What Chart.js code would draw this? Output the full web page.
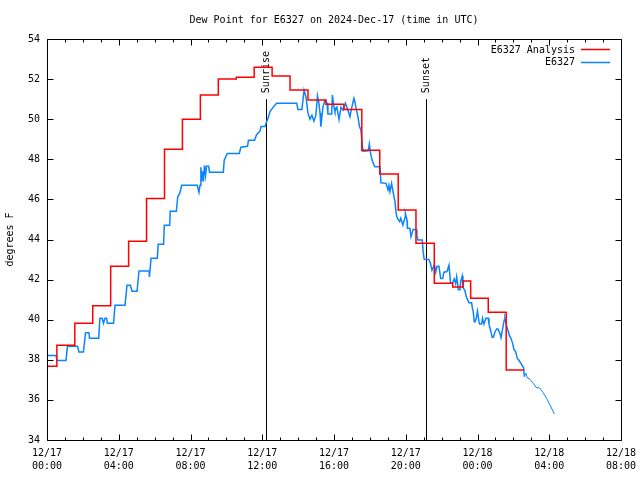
<!DOCTYPE html>
<html>
<head>
<meta charset="utf-8">
<script src="https://cdn.jsdelivr.net/npm/chart.js@4.4.1/dist/chart.umd.min.js"></script>
<style>
  html, body { margin: 0; padding: 0; background: #fff; }
  canvas { display: block; }
</style>
</head>
<body>
<canvas id="dewChart" width="640" height="480"></canvas>
<script>
const chartTitle = 'Dew Point for E6327 on 2024-Dec-17 (time in UTC)';
const analysisLabel = 'E6327 Analysis';
const obsLabel = 'E6327';
const yAxisLabel = 'degrees F';

// times are hours since 2024-12-17 00:00 UTC
const analysisHours = [0, 0.55, 1.55, 2.55, 3.55, 4.55, 5.55, 6.55, 7.55, 8.55, 9.55, 10.55, 11.55,
  12.55, 13.55, 14.55, 15.55, 16.55, 17.55, 18.55, 19.58, 20.57, 21.59, 22.62, 23.2, 23.62, 24.6, 25.6, 26.6];
const analysisDewpt = [37.68, 38.72, 39.82, 40.70, 42.66, 43.91, 46.05, 48.50, 50.00, 51.21, 52.00, 52.09, 52.59,
  52.15, 51.46, 50.96, 50.75, 50.49, 48.45, 47.27, 45.47, 43.81, 41.82, 41.63, 41.93, 41.07, 40.37, 37.49, 37.49];

const obsHours = [0, 0.50, 0.56, 1.06, 1.14, 1.70, 1.78, 2.03, 2.15, 2.34, 2.37, 2.88, 2.95, 3.07, 3.15, 3.23,
  3.32, 3.37, 3.71, 3.79, 4.35, 4.46, 4.65, 4.74, 5.02, 5.13, 5.69, 5.71, 5.80, 6.15, 6.20, 6.50, 6.54, 6.84,
  6.87, 7.21, 7.29, 7.40, 7.51, 8.38, 8.47, 8.53, 8.58, 8.62, 8.67, 8.72, 8.78, 8.84, 8.89, 9.01, 9.06, 9.83,
  9.88, 10.05, 10.72, 10.81, 11.18, 11.23, 11.57, 11.68, 11.87, 11.93, 12.15, 12.21, 12.32, 12.43, 12.60, 12.80,
  13.92, 13.99, 14.21, 14.33, 14.44, 14.55, 14.66, 14.77, 14.88, 14.99, 15.08, 15.16, 15.22, 15.27, 15.38, 15.50,
  15.61, 15.66, 15.87, 15.91, 16.00, 16.05, 16.16, 16.28, 16.39, 16.50, 16.64, 16.72, 16.83, 16.89, 16.97, 17.11,
  17.17, 17.22, 17.34, 17.42, 17.50, 17.56, 17.61, 17.91, 17.97, 18.04, 18.12, 18.27, 18.56, 18.62, 18.90, 19.01,
  19.06, 19.12, 19.21, 19.29, 19.40, 19.47, 19.53, 19.66, 19.72, 19.84, 19.96, 19.98, 20.07, 20.09, 20.23, 20.29,
  20.41, 20.58, 20.62, 20.68, 20.92, 20.97, 21.03, 21.29, 21.38, 21.46, 21.60, 21.67, 21.74, 21.85, 21.95, 22.06,
  22.13, 22.30, 22.41, 22.50, 22.60, 22.70, 22.78, 22.84, 22.93, 23.02, 23.06, 23.15, 23.19, 23.30, 23.37, 23.52,
  23.67, 23.72, 23.76, 23.82, 23.87, 23.95, 24.00, 24.08, 24.12, 24.23, 24.28, 24.36, 24.47, 24.60, 24.64, 24.72,
  24.82, 24.88, 24.98, 25.07, 25.14, 25.25, 25.31, 25.35, 25.49, 25.53, 25.66, 25.77, 25.86, 25.96, 26.03, 26.13,
  26.22, 26.33, 26.42, 26.57, 26.61, 26.70, 26.77, 26.92, 27.11, 27.26, 27.48, 27.66, 27.85, 28.04, 28.28];
const obsDewpt = [38.22, 38.22, 37.97, 37.97, 38.67, 38.67, 38.39, 38.39, 39.35, 39.35, 39.07, 39.07, 40.07, 40.07, 39.82, 40.07,
  40.07, 39.82, 39.82, 40.72, 40.72, 41.72, 41.72, 41.42, 41.42, 42.43, 42.43, 42.13, 43.06, 43.06, 43.76, 43.76, 44.71, 44.71,
  45.41, 45.41, 46.13, 46.30, 46.70, 46.70, 46.35, 46.70, 47.60, 46.90, 47.40, 46.90, 47.70, 47.20, 47.65, 47.65, 47.35, 47.35,
  47.95, 48.29, 48.29, 48.60, 48.65, 48.95, 48.95, 49.23, 49.40, 49.63, 49.63, 49.80, 50.04, 50.37, 50.59, 50.80,
  50.80, 50.49, 50.49, 51.45, 51.10, 50.30, 50.00, 50.20, 49.90, 50.20, 51.17, 50.80, 50.30, 49.63, 50.60, 50.96,
  50.80, 50.26, 50.26, 51.20, 50.60, 50.40, 50.60, 49.99, 50.60, 50.45, 50.80, 50.60, 50.30, 50.13, 50.50, 51.04,
  50.85, 50.60, 50.10, 49.63, 49.46, 48.88, 48.41, 48.43, 48.76, 48.30, 47.96, 47.63, 47.63, 46.83, 46.80, 46.47,
  46.70, 46.39, 46.80, 46.39, 45.89, 45.26, 45.06, 44.89, 45.06, 44.72, 45.10, 45.31, 44.95, 44.56, 44.56, 44.14,
  44.50, 44.50, 44.22, 43.97, 43.97, 43.39, 43.01, 43.00, 42.80, 42.46, 42.75, 42.37, 42.66, 42.66, 42.05, 42.05,
  42.37, 42.40, 42.72, 41.82, 41.82, 42.03, 41.80, 42.15, 41.50, 41.50, 41.90, 42.18, 41.60, 41.45, 41.15, 40.85,
  40.85, 40.55, 40.40, 39.90, 39.90, 40.15, 40.43, 39.90, 39.78, 39.78, 40.07, 39.78, 40.07, 40.07, 39.78, 39.50,
  39.12, 39.12, 39.40, 39.54, 39.54, 39.32, 39.10, 39.30, 39.99, 40.07, 39.57, 39.24, 39.07, 38.82, 38.52, 38.40,
  38.07, 37.95, 37.82, 37.60, 37.16, 37.33, 37.10, 37.03, 36.83, 36.63, 36.58, 36.36, 36.08, 35.75, 35.30];

const xTickHours = [0, 4, 8, 12, 16, 20, 24, 28, 32];
const xTickLabels = [['12/17', '00:00'], ['12/17', '04:00'], ['12/17', '08:00'], ['12/17', '12:00'],
  ['12/17', '16:00'], ['12/17', '20:00'], ['12/18', '00:00'], ['12/18', '04:00'], ['12/18', '08:00']];

const sunLabels = ['Sunrise', 'Sunset'];
const sunHours = [12.22, 21.13];
const sunMarkTop = 51;

const FONT = '"DejaVu Sans Mono", "Liberation Mono", monospace';
Chart.defaults.font.family = FONT;
Chart.defaults.font.size = 10;
Chart.defaults.color = '#000';

// gnuplot-like box: frame, inward ticks, markers, title and key
const gnuplotFrame = {
  id: 'gnuplotFrame',
  beforeDatasetsDraw(chart) {
    const { ctx, chartArea: a, scales: { x, y } } = chart;
    ctx.save();
    ctx.strokeStyle = '#000';
    ctx.fillStyle = '#000';
    ctx.lineWidth = 1;
    ctx.font = '10px ' + FONT;
    sunHours.forEach((h, i) => {
      const px = Math.round(x.getPixelForValue(h)) + 0.5;
      const top = y.getPixelForValue(sunMarkTop);
      ctx.beginPath();
      ctx.moveTo(px, a.bottom);
      ctx.lineTo(px, top);
      ctx.stroke();
      ctx.save();
      ctx.translate(px, top - 6);
      ctx.rotate(-Math.PI / 2);
      ctx.textAlign = 'left';
      ctx.textBaseline = 'middle';
      ctx.fillText(sunLabels[i], 0, 0);
      ctx.restore();
    });
    ctx.restore();
  },
  afterDraw(chart) {
    const { ctx, chartArea: a, scales: { x, y } } = chart;
    const l = Math.round(a.left) + 0.5, r = Math.round(a.right) + 0.5;
    const t = Math.round(a.top) + 0.5, b = Math.round(a.bottom) + 0.5;
    ctx.save();
    ctx.strokeStyle = '#000';
    ctx.lineWidth = 1;
    ctx.beginPath();
    ctx.rect(l, t, r - l, b - t);
    for (let h = 0; h <= 32; h++) {
      const px = Math.round(x.getPixelForValue(h)) + 0.5;
      const len = h % 4 === 0 ? 6 : 3;
      ctx.moveTo(px, b); ctx.lineTo(px, b - len);
      ctx.moveTo(px, t); ctx.lineTo(px, t + len);
    }
    for (let v = 34; v <= 54; v += 2) {
      const py = Math.round(y.getPixelForValue(v)) + 0.5;
      ctx.moveTo(l, py); ctx.lineTo(l + 6, py);
      ctx.moveTo(r, py); ctx.lineTo(r - 6, py);
    }
    ctx.stroke();

    ctx.fillStyle = '#000';
    ctx.font = '10px ' + FONT;
    ctx.textAlign = 'center';
    ctx.textBaseline = 'middle';
    ctx.fillText(chartTitle, (a.left + a.right) / 2, 20);

    // key
    ctx.textAlign = 'right';
    chart.data.datasets.forEach((ds, i) => {
      const ky = 50 + i * 12.5;
      ctx.fillText(ds.label, 575, ky);
      ctx.strokeStyle = ds.borderColor;
      ctx.lineWidth = 1.5;
      ctx.beginPath();
      ctx.moveTo(581, Math.round(ky) - 0.5);
      ctx.lineTo(610, Math.round(ky) - 0.5);
      ctx.stroke();
    });
    ctx.restore();
  }
};

new Chart(document.getElementById('dewChart'), {
  type: 'line',
  data: {
    datasets: [{
      label: analysisLabel,
      data: analysisHours.map((h, i) => ({ x: h, y: analysisDewpt[i] })),
      borderColor: '#ff0000',
      borderWidth: 1.5,
      stepped: true,
      pointRadius: 0,
      fill: false
    }, {
      label: obsLabel,
      data: obsHours.map((h, i) => ({ x: h, y: obsDewpt[i] })),
      borderColor: '#0a84ff',
      borderWidth: 1.5,
      pointRadius: 0,
      tension: 0,
      fill: false,
      segment: {
        borderWidth: c => (c.p0.parsed.x >= 26.6 ? 1 : 1.5)
      }
    }]
  },
  options: {
    responsive: false,
    animation: false,
    devicePixelRatio: 1,
    layout: { padding: { top: 39, right: 19, left: 0, bottom: 0 } },
    plugins: {
      legend: { display: false },
      title: { display: false },
      tooltip: { enabled: false }
    },
    scales: {
      x: {
        type: 'linear',
        min: 0,
        max: 32,
        grid: { display: false, drawTicks: false },
        border: { display: false },
        afterFit: s => {
          s.height = 40;
          s.paddingLeft = 0;
          s.paddingRight = 0;
        },
        ticks: {
          stepSize: 4,
          autoSkip: false,
          maxRotation: 0,
          padding: 7,
          font: { size: 10, lineHeight: 1.3 },
          callback: v => {
            const i = xTickHours.indexOf(v);
            return i >= 0 ? xTickLabels[i] : '';
          }
        }
      },
      y: {
        min: 34,
        max: 54,
        grid: { display: false, drawTicks: false },
        border: { display: false },
        afterFit: s => {
          s.width = 47;
          s.paddingTop = 0;
          s.paddingBottom = 0;
        },
        title: { display: true, text: yAxisLabel, padding: { top: 4, bottom: 0 }, font: { size: 10 } },
        ticks: { stepSize: 2, padding: 7 }
      }
    }
  },
  plugins: [gnuplotFrame]
});
</script>
</body>
</html>
